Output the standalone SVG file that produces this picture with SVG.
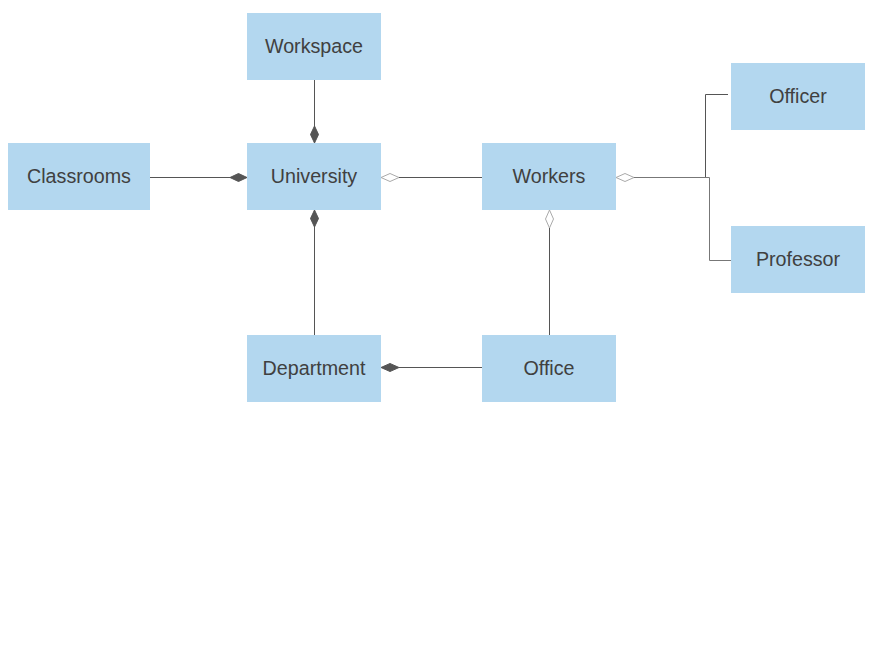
<svg xmlns="http://www.w3.org/2000/svg" width="892" height="662" viewBox="0 0 892 662">
<style>
.n{fill:#b3d7ef;}
.t{font-family:"Liberation Sans",Arial,sans-serif;font-size:19.7px;fill:#404040;text-anchor:middle;dominant-baseline:central;}
.c{fill:none;stroke:#555;stroke-width:1;}
.c2{fill:none;stroke:#777;stroke-width:1;}
.fd{fill:#555;stroke:#555;stroke-width:1;}
.hd{fill:#fff;stroke:#aaa;stroke-width:1;}
</style>
<rect width="892" height="662" fill="#fff"/>
<g id="connectors">
<path class="c" d="M314.5 80V143"/>
<path class="fd" d="M314.5 143L310.5 134.5L314.5 126L318.5 134.5Z"/>
<path class="c" d="M150 177.5H247"/>
<path class="fd" d="M247 177.5L238.5 173.5L230 177.5L238.5 181.5Z"/>
<path class="c" d="M399 177.5H482"/>
<path class="hd" d="M381 177.5L390 173.5L399 177.5L390 181.5Z"/>
<path class="c" d="M314.5 335V210"/>
<path class="fd" d="M314.5 210L310.5 218.5L314.5 227L318.5 218.5Z"/>
<path class="c" d="M549.5 335V228"/>
<path class="hd" d="M549.5 210L545.5 219L549.5 228L553.5 219Z"/>
<path class="c" d="M482 367.5H399"/>
<path class="fd" d="M381 367.5L390 363.5L399 367.5L390 371.5Z"/>
<path class="hd" d="M616 177.5L625 173.5L634 177.5L625 181.5Z"/>
<path class="c" d="M634 177.5H705.5V94.5H728"/>
<path class="c2" d="M634 177.5H709.5V260.5H731"/>
</g>
<g id="Workspace"><rect class="n" x="247" y="13" width="134" height="67"/><text class="t" x="314" y="45.5">Workspace</text></g>
<g id="University"><rect class="n" x="247" y="143" width="134" height="67"/><text class="t" x="314" y="175.5">University</text></g>
<g id="Classrooms"><rect class="n" x="8" y="143" width="142" height="67"/><text class="t" x="79" y="175.5">Classrooms</text></g>
<g id="Workers"><rect class="n" x="482" y="143" width="134" height="67"/><text class="t" x="549" y="175.5">Workers</text></g>
<g id="Officer"><rect class="n" x="731" y="63" width="134" height="67"/><text class="t" x="798" y="95.5">Officer</text></g>
<g id="Professor"><rect class="n" x="731" y="226" width="134" height="67"/><text class="t" x="798" y="258.5">Professor</text></g>
<g id="Department"><rect class="n" x="247" y="335" width="134" height="67"/><text class="t" x="314" y="367.5">Department</text></g>
<g id="Office"><rect class="n" x="482" y="335" width="134" height="67"/><text class="t" x="549" y="367.5">Office</text></g>
</svg>
